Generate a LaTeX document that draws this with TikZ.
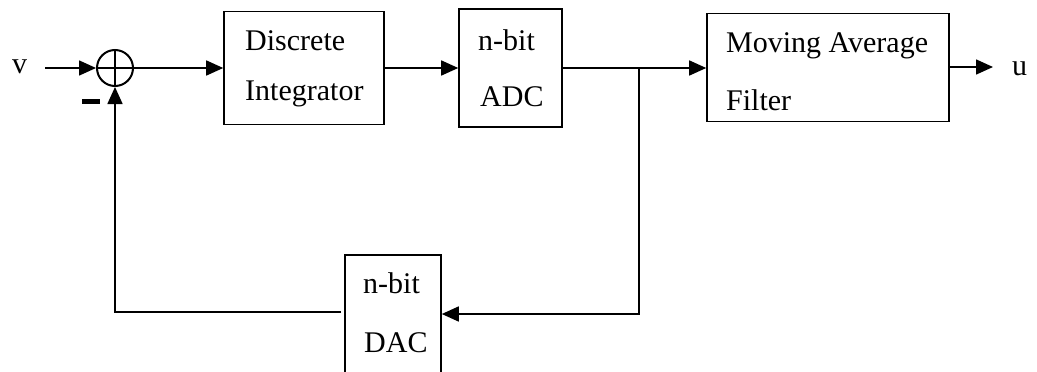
\documentclass[tikz,border=0pt]{standalone}
\usepackage{fontspec}
\setmainfont{Liberation Serif}
\usetikzlibrary{arrows.meta}
\begin{document}
\begin{tikzpicture}[x=1pt,y=-1pt,
  blk/.style={draw, line width=1.6pt, inner sep=0pt},
  sumnode/.style={draw, circle, line width=2pt, minimum size=36pt, inner sep=0pt},
  txt/.style={anchor=base west, inner sep=0pt, font=\fontsize{30}{32}\selectfont},
  wire/.style={line width=1.6pt},
  arr/.style={wire, -{Triangle[length=17pt,width=15pt]}}]
\useasboundingbox (0,0) rectangle (1037,372);
% blocks
\node[blk, minimum width=160pt, minimum height=113pt] (int) at (304,68) {};
\node[blk, minimum width=103pt, minimum height=118pt] (adc) at (510.5,68) {};
\node[blk, minimum width=242pt, minimum height=108pt] (maf) at (828,67.5) {};
\node[blk, minimum width=96pt, minimum height=125pt] (dac) at (393,317.5) {};
\node[sumnode] (s) at (115,68) {};
\draw[wire] (s.north) -- (s.south);
\draw[wire] (s.west) -- (s.east);
% texts
\node[txt] (t1) at (245,50) {Discrete};
\node[txt] (t2) at (245,100) {Integrator};
\node[txt] (t3) at (478,50) {n-bit};
\node[txt] (t4) at (480,106) {ADC};
\node[txt] (t5) at (726,52) {Moving Average};
\node[txt] (t6) at (726,110) {Filter};
\node[txt] (t7) at (363,293) {n-bit};
\node[txt] (t8) at (364,352) {DAC};
\node[txt] (v) at (12,73) {v};
\node[txt] (u) at (1012,75) {u};
\node[fill, minimum width=18pt, minimum height=5pt, inner sep=0pt] (minus) at (91,101) {};
% connectors
\coordinate (vin) at (45,68);
\draw[arr] (vin) -- (s.west);
\draw[arr] (s.east) -- (int.west);
\draw[arr] (int.east) -- (adc.west);
\coordinate (br) at (639,68);
\draw[wire] (adc.east) -- (br);
\draw[arr] (br) -- (br -| maf.west);
\coordinate (brd) at (639,314);
\draw[arr] (br) -- (brd) -- (brd -| dac.east);
\coordinate (fbr) at (341,312);
\coordinate (fbl) at (115,312);
\draw[arr] (fbr) -- (fbl) -- (s.south);
\coordinate (uout) at (993,67);
\draw[arr] (maf.east |- uout) -- (uout);
\end{tikzpicture}
\end{document}
